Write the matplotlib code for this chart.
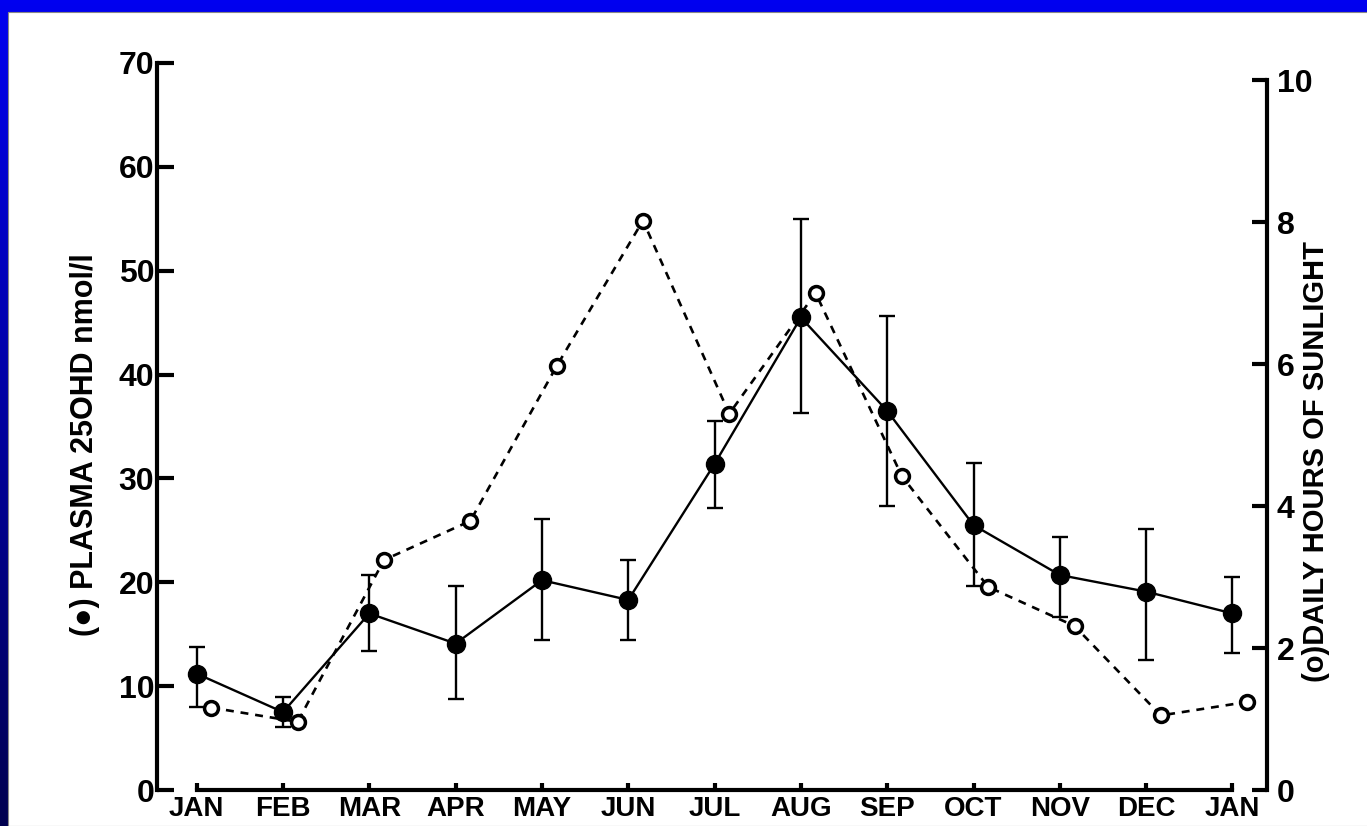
import numpy as np
import matplotlib
matplotlib.use("Agg")
import matplotlib.pyplot as plt
from matplotlib.patches import Rectangle

plt.rcParams['font.family'] = ['Liberation Sans', 'DejaVu Sans']
plt.rcParams['font.weight'] = 'bold'

months = ['JAN', 'FEB', 'MAR', 'APR', 'MAY', 'JUN', 'JUL',
          'AUG', 'SEP', 'OCT', 'NOV', 'DEC', 'JAN']

# plasma 25OHD (nmol/l), mean with upper / lower limits of the bars
plasma = [11.2, 7.5, 17.0, 14.1, 20.2, 18.3, 31.4, 45.5, 36.5, 25.5, 20.7, 19.1, 17.0]
plasma_hi = [13.8, 9.0, 20.7, 19.6, 26.1, 22.1, 35.5, 55.0, 45.6, 31.5, 24.4, 25.1, 20.5]
plasma_lo = [8.0, 6.1, 13.4, 8.8, 14.4, 14.4, 27.2, 36.3, 27.3, 19.6, 16.7, 12.5, 13.2]

# daily hours of sunlight
sunlight = [1.16, 0.96, 3.24, 3.79, 5.97, 8.02, 5.30, 7.00, 4.42, 2.86, 2.31, 1.05, 1.24]

x = np.arange(len(months))
plasma = np.array(plasma)
yerr = [plasma - np.array(plasma_lo), np.array(plasma_hi) - plasma]

fig = plt.figure(figsize=(13.67, 8.26), dpi=100)
fig.patch.set_facecolor('white')

# blue slide frame
bg = fig.add_axes([0, 0, 1, 1], zorder=-10)
grad = np.linspace(0, 1, 256).reshape(-1, 1)
bg.imshow(grad, cmap=matplotlib.colors.LinearSegmentedColormap.from_list(
    'frame', ['#0000f0', '#000050']), aspect='auto', extent=[0, 1, 0, 1])
bg.add_patch(Rectangle((8 / 1367, 0), 1, 1 - 12 / 826, facecolor='white',
                       edgecolor='#888888', lw=0.8))
bg.set_xlim(0, 1)
bg.set_ylim(0, 1)
bg.axis('off')

ax = fig.add_axes([157 / 1367, 36 / 826, 1110 / 1367, 727 / 826])
ax.patch.set_alpha(0)
ax2 = ax.twinx()

ax.errorbar(x, plasma, yerr=yerr, fmt='-o', color='black', lw=1.7,
            ms=13, elinewidth=1.7, capsize=6, capthick=1.7, zorder=3)
ax2.plot(x + 0.17, sunlight, linestyle=(0, (3, 2.6)), color='black', lw=1.9,
         marker='o', ms=10, mfc='white', mec='black', mew=2.5, zorder=3)

ax.set_xlim(-0.46, 12.40)
ax.set_ylim(0, 70)
ax2.set_ylim(0, 10.24)

ax.set_yticks(range(0, 71, 10))
ax2.set_yticks(range(0, 11, 2))
ax.set_xticks(x)
ax.set_xticklabels(months)

for s in ['top', 'right']:
    ax.spines[s].set_visible(False)
for s in ['top', 'left', 'bottom']:
    ax2.spines[s].set_visible(False)
ax.spines['left'].set_linewidth(3)
ax.spines['bottom'].set_linewidth(3)
ax.spines['bottom'].set_bounds(0, 12)
ax2.spines['right'].set_linewidth(3)
ax2.spines['right'].set_bounds(0, 10)

ax.tick_params(axis='y', direction='in', length=12, width=3, pad=2,
               labelsize=23)
ax.tick_params(axis='x', direction='in', length=5, width=3, pad=4,
               labelsize=20)
ax2.tick_params(axis='y', direction='in', length=11, width=3, pad=7,
                labelsize=23)
for lab in ax.get_xticklabels() + ax.get_yticklabels() + ax2.get_yticklabels():
    lab.set_fontweight('bold')

fig.text(85 / 1367, 1 - 445 / 826, '(\u25cf) PLASMA 25OHD nmol/l', rotation=90,
         ha='center', va='center', fontsize=22, fontweight='bold')
fig.text(1316 / 1367, 1 - 462 / 826, '(o)DAILY HOURS OF SUNLIGHT', rotation=90,
         ha='center', va='center', fontsize=21, fontweight='bold')

fig.savefig('out.png', dpi=100)
